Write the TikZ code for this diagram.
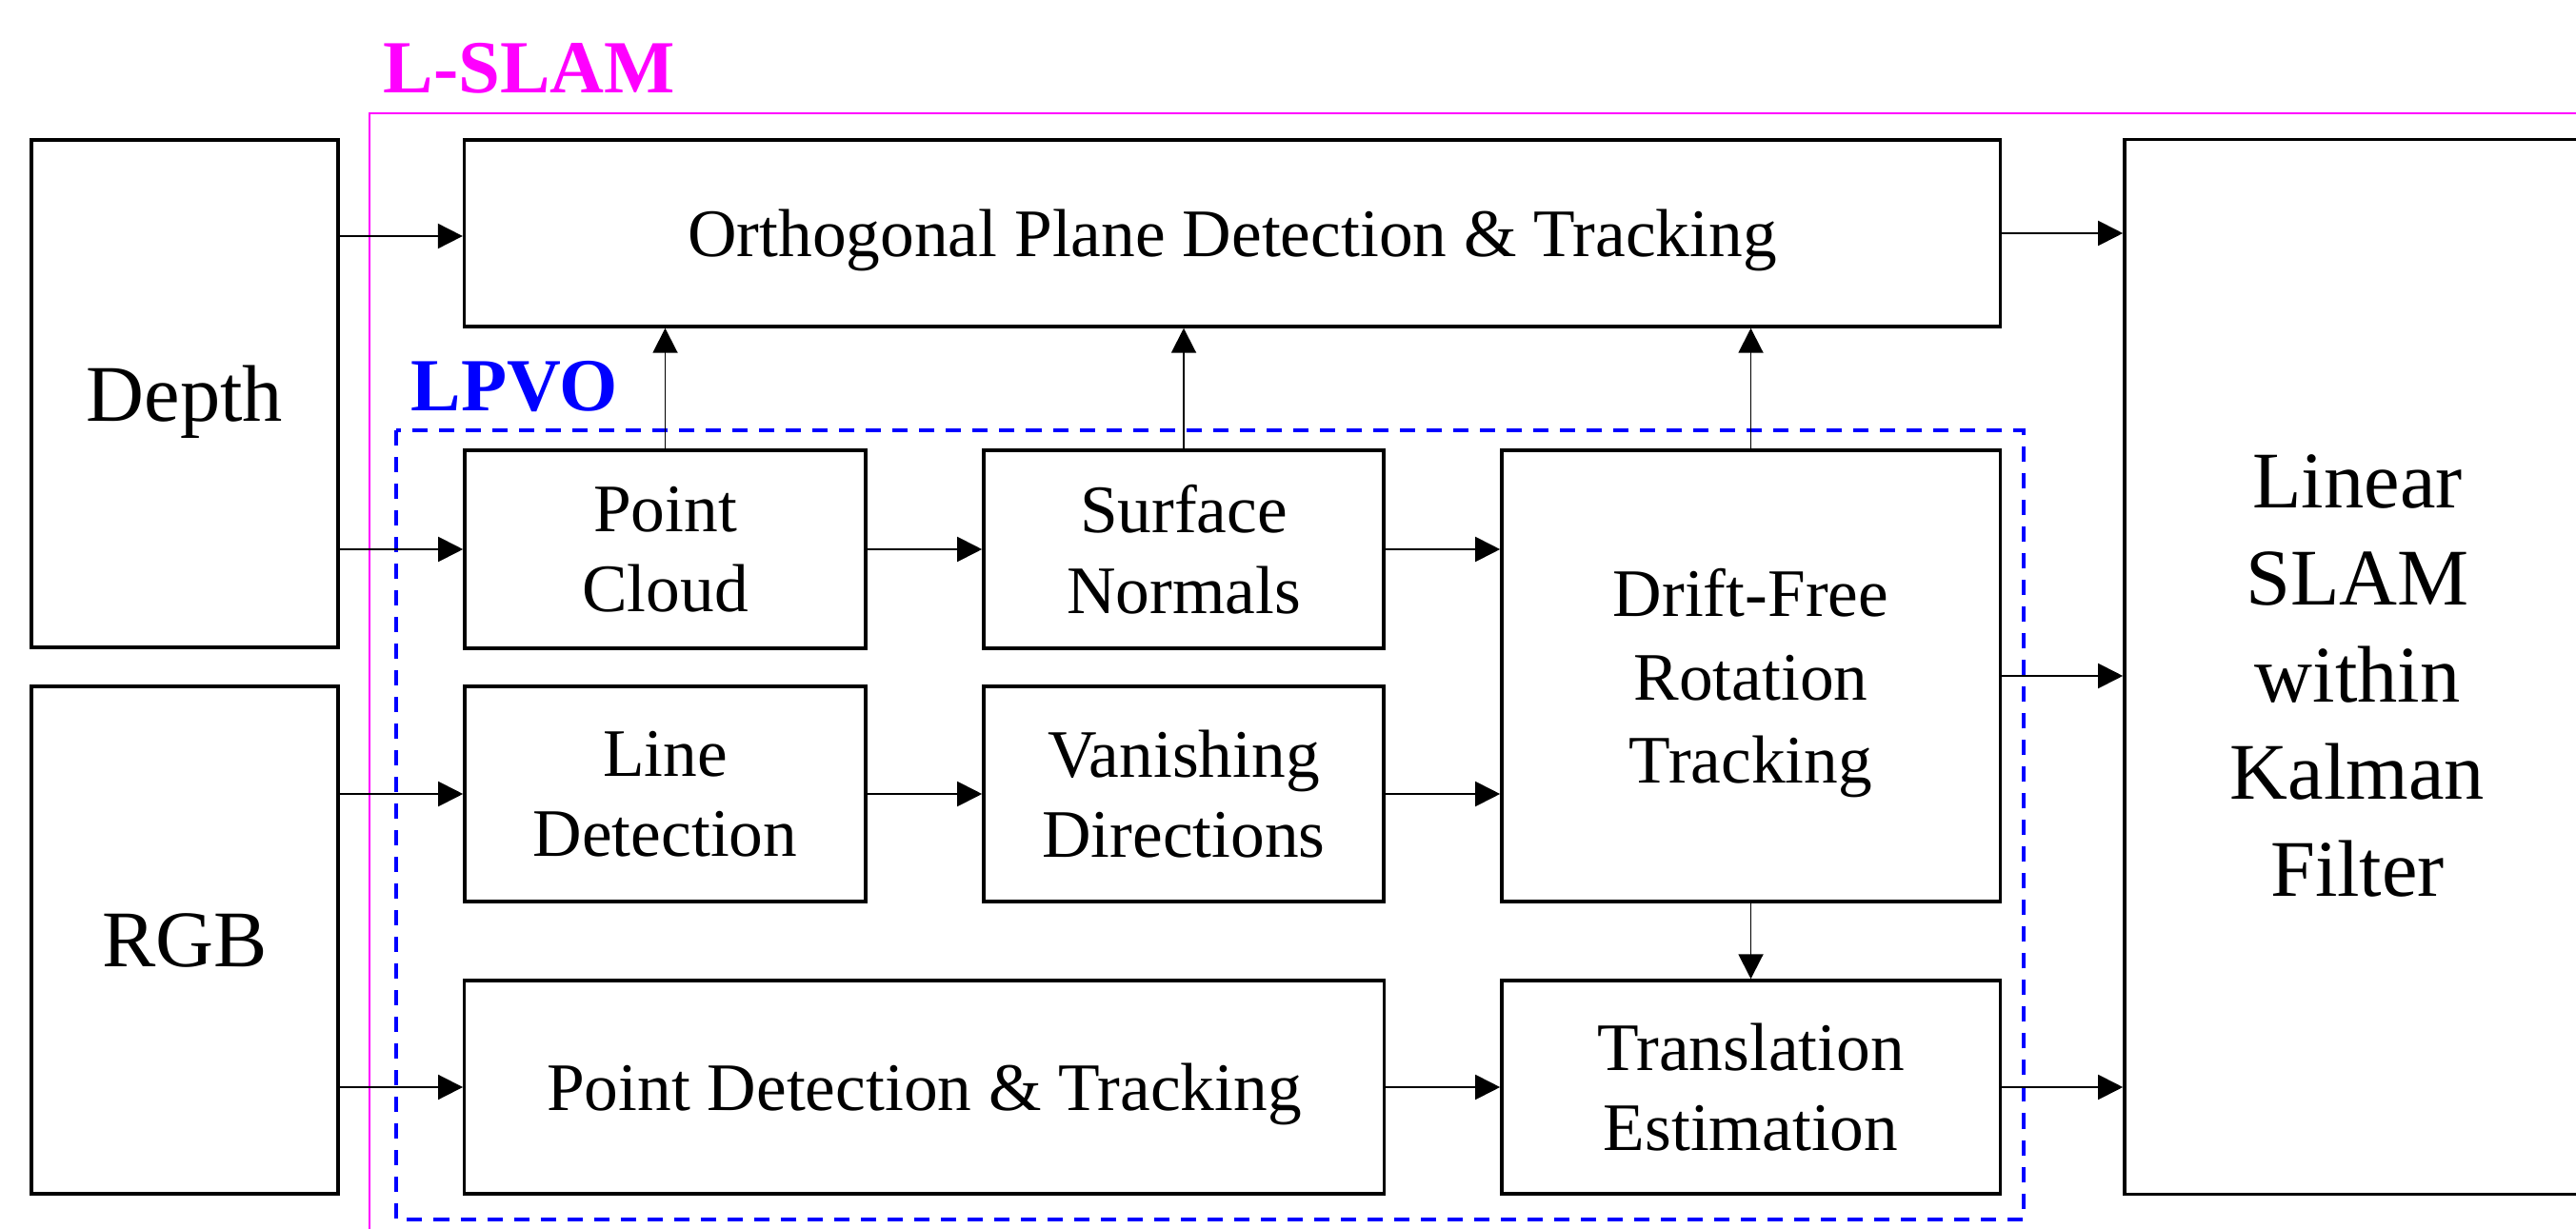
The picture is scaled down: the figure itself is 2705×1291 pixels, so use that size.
\documentclass[tikz,border=0pt]{standalone}
\usepackage{fontspec}
\setmainfont{Liberation Serif}
\usetikzlibrary{arrows.meta,calc}
\definecolor{lslam}{RGB}{255,0,255}
\definecolor{lpvo}{RGB}{0,0,255}
\tikzset{
  blk/.style={draw=black, line width=0.95pt, inner sep=0pt, align=center, text depth=0pt,
    font=\fontsize{20.3pt}{24pt}\selectfont},
  bigblk/.style={blk, font=\fontsize{24pt}{29pt}\selectfont},
  arr/.style={line width=0.55pt, -{Triangle[length=0.26cm,width=0.26cm]}},
  grouplabel/.style={inner sep=0pt, anchor=base west, font=\bfseries\fontsize{22.4pt}{26pt}\selectfont}
}
\begin{document}
\begin{tikzpicture}[x=0.01cm,y=-0.01cm]
\useasboundingbox (0,0) rectangle (2705,1291);
\clip (0,0) rectangle (2705,1291);
% group frames
\draw[lslam, line width=0.85pt] (388,1400) -- (388,119) -- (2800,119);
\node[grouplabel, text=lslam] (lslamlabel) at (402,98) {L-SLAM};
\draw[lpvo, line width=0.95pt, dash pattern=on 0.16cm off 0.12cm] (416,452) rectangle (2125,1281);
\node[grouplabel, text=lpvo] (lpvolabel) at (431,431) {LPVO};
% inputs
\node[bigblk, minimum width=3.22cm, minimum height=5.33cm] (depth) at (194,413.5) {Depth};
\node[bigblk, minimum width=3.22cm, minimum height=5.33cm] (rgb) at (194,987.5) {RGB};
% L-SLAM blocks
\node[blk, minimum width=16.12cm, minimum height=1.96cm] (ortho) at (1294,245) {Orthogonal Plane Detection \& Tracking};
\node[blk, minimum width=4.89cm, minimum height=11.07cm] (kf) at (2475.5,700.5) {};
\node[inner sep=0pt, align=center, font=\fontsize{24pt}{29pt}\selectfont] (kftext) at ($(kf.center)+(0,9.5)$) {Linear\\SLAM\\within\\Kalman\\Filter};
% LPVO blocks
\node[blk, minimum width=4.21cm, minimum height=2.08cm] (pc) at (698.5,577) {Point\\Cloud};
\node[blk, minimum width=4.20cm, minimum height=2.08cm] (sn) at (1243,577) {Surface\\Normals};
\node[blk, minimum width=5.23cm, minimum height=4.74cm, font=\fontsize{20.3pt}{24.8pt}\selectfont] (drift) at (1838.5,710) {Drift-Free\\Rotation\\Tracking};
\node[blk, minimum width=4.21cm, minimum height=2.26cm] (ld) at (698.5,834) {Line\\Detection};
\node[blk, minimum width=4.20cm, minimum height=2.26cm] (vd) at (1243,834) {Vanishing\\Directions};
\node[blk, minimum width=9.65cm, minimum height=2.24cm] (pdt) at (970.5,1142) {Point Detection \& Tracking};
\node[blk, minimum width=5.23cm, minimum height=2.24cm] (te) at (1838.5,1142) {Translation\\Estimation};
% connectors
\draw[arr] (depth.east |- ortho.west) ++(0,3) coordinate (d2o) (depth.east |- d2o) -- (ortho.west |- d2o);
\draw[arr] (depth.east |- pc.west) -- (pc.west);
\draw[arr] (rgb.east |- ld.west) -- (ld.west);
\draw[arr] (rgb.east |- pdt.west) -- (pdt.west);
\draw[arr] (pc.east) -- (sn.west);
\draw[arr] (ld.east) -- (vd.west);
\draw[arr] (sn.east) -- (sn.east -| drift.west);
\draw[arr] (vd.east) -- (vd.east -| drift.west);
\draw[arr] (pdt.east) -- (te.west);
\draw[arr] (pc.north) -- (pc.north |- ortho.south);
\draw[arr] (sn.north) -- (sn.north |- ortho.south);
\draw[arr] (drift.north) -- (drift.north |- ortho.south);
\draw[arr] (drift.south) -- (te.north);
\draw[arr] (ortho.east) -- (ortho.east -| kf.west);
\draw[arr] (drift.east) -- (drift.east -| kf.west);
\draw[arr] (te.east) -- (te.east -| kf.west);
\end{tikzpicture}
\end{document}
